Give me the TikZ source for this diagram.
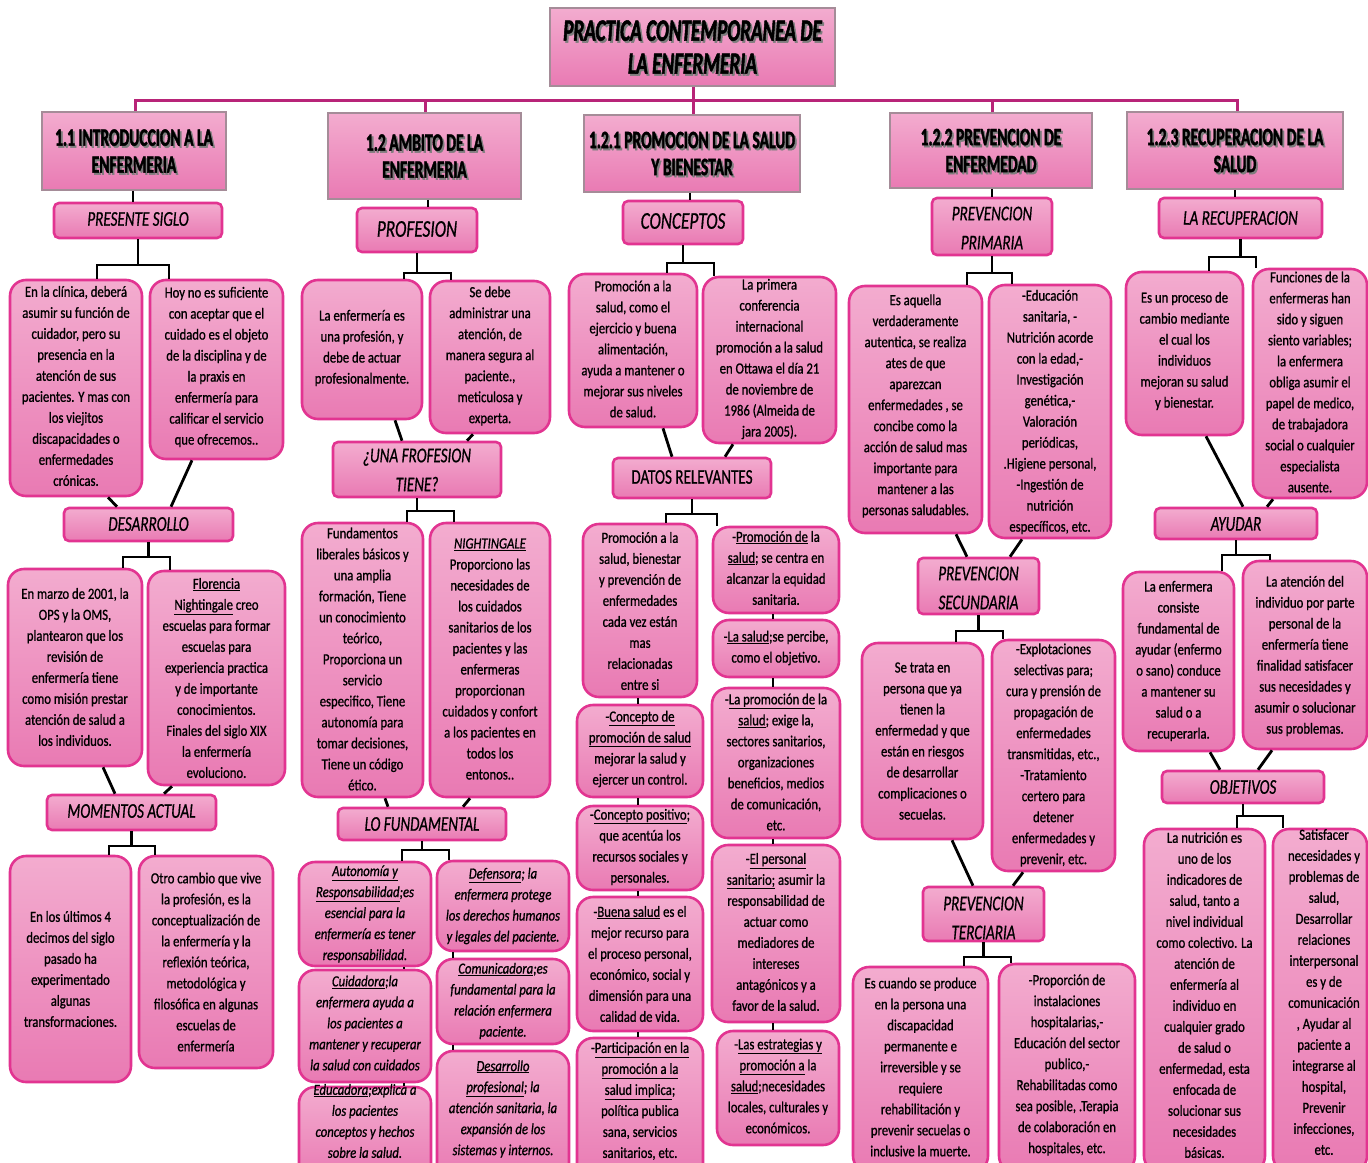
\documentclass[tikz,border=0pt]{standalone}
\usepackage{fontspec}
\setmainfont{Carlito}
\newfontfamily\leaffont{Carlito}[FakeStretch=0.82,FakeBold=0.9]
\newfontfamily\midfont{Carlito}[FakeStretch=0.72,FakeBold=0.6]
\newfontfamily\topfont{Carlito}[FakeStretch=0.62,FakeBold=1.6]
\definecolor{ptop}{RGB}{243,172,207}
\definecolor{pbot}{RGB}{233,122,179}
\definecolor{lbord}{RGB}{226,52,145}
\definecolor{hbord}{RGB}{165,140,152}
\definecolor{tline}{RGB}{184,36,120}
\definecolor{shad}{RGB}{125,125,125}
\tikzset{
 leafbox/.style={draw=lbord,line width=2.6pt,rounded corners=16pt,top color=ptop,bottom color=pbot,inner sep=0pt},
 midbox/.style={draw=lbord,line width=2.6pt,rounded corners=5pt,top color=ptop,bottom color=pbot,inner sep=0pt},
 headbox/.style={draw=hbord,line width=1.6pt,top color=ptop,bottom color=pbot,inner sep=0pt},
 leaftext/.style={align=center,inner sep=0pt,font=\leaffont\fontsize{15.5}{21}\selectfont},
 leafit/.style={align=center,inner sep=0pt,font=\leaffont\itshape\fontsize{15.5}{21}\selectfont},
 midtext/.style={align=center,inner sep=0pt,font=\midfont\itshape\fontsize{21}{29}\selectfont},
 bigtext/.style={align=center,inner sep=0pt,font=\midfont\itshape\fontsize{24}{29}\selectfont},
 plaintext/.style={align=center,inner sep=0pt,font=\midfont\fontsize{21}{28}\selectfont},
 headtext/.style={align=center,inner sep=0pt,font=\topfont\bfseries\fontsize{25}{27}\selectfont},
 titletext/.style={align=center,inner sep=0pt,font=\topfont\bfseries\itshape\fontsize{31}{33}\selectfont},
 conn/.style={line width=2.8pt,black},
 thinconn/.style={line width=1.8pt,black},
 topline/.style={line width=3pt,tline},
}
\newcommand\bx[9]{%
 \pgfmathsetmacro\mW{#6-#4}\pgfmathsetmacro\mH{#7-#5}%
 \pgfmathsetmacro\mX{(#4+#6)/2}\pgfmathsetmacro\mY{(#5+#7)/2}%
 \node[#1,minimum width=\mW pt,minimum height=\mH pt] (#3) at (\mX,\mY) {};%
 \node[#2] (#3-t) at (\mX,#8) {#9};}
\newcommand\hd[7]{%
 \pgfmathsetmacro\mW{#5-#3}\pgfmathsetmacro\mH{#6-#4}%
 \pgfmathsetmacro\mX{(#3+#5)/2}\pgfmathsetmacro\mY{(#4+#6)/2}%
 \node[headbox,minimum width=\mW pt,minimum height=\mH pt] (#2) at (\mX,\mY) {};%
 \node[#1,text=shad] (#2-s) at ([xshift=1.8pt,yshift=-2pt]#2.center) {#7};%
 \node[#1] (#2-t) at (#2.center) {#7};}
\newcommand\brk[6]{%
 \draw[conn] (#1.south) -- (#1.south |- 0,#2);
 \draw[conn] (#5.north -| #3,0) -- (#3,#2) -- (#4,#2) -- (#6.north -| #4,0);}
\newcommand\dgl[4]{\draw[conn] (#1.south -| #2,0) -- (#3.north -| #4,0);}
\newcommand\chn[3]{\draw[thinconn] (#1.south -| #3,0) -- (#2.north -| #3,0);}
\begin{document}
\begin{tikzpicture}[x=1pt,y=-1pt]
\useasboundingbox (0,0) rectangle (1368,1162);
\fill[white] (0,0) rectangle (1368,1162);
\clip (0,0) rectangle (1368,1162);
% ---- headers
\hd{titletext}{title}{550}{8}{835}{86}{PRACTICA CONTEMPORANEA DE\\LA ENFERMERIA}
\hd{headtext}{b11}{42}{112}{226}{190}{1.1 INTRODUCCION A LA\\ENFERMERIA}
\hd{headtext}{b12}{328}{113}{521}{199}{1.2 AMBITO DE LA\\ENFERMERIA}
\hd{headtext}{b121}{584}{115}{800}{192}{1.2.1 PROMOCION DE LA SALUD\\Y BIENESTAR}
\hd{headtext}{b122}{890}{113}{1092}{188}{1.2.2 PREVENCION DE\\ENFERMEDAD}
\hd{headtext}{b123}{1127}{112}{1343}{189}{1.2.3 RECUPERACION DE LA\\SALUD}
% ---- second level
\bx{midbox}{midtext}{ps}{54}{203}{222}{238}{219}{PRESENTE SIGLO}
\bx{midbox}{bigtext}{prof}{357}{208}{477}{252}{229}{PROFESION}
\bx{midbox}{bigtext}{conc}{623}{201}{743}{244}{221}{CONCEPTOS}
\bx{midbox}{midtext}{pp}{932}{198}{1052}{255}{228}{PREVENCION\\PRIMARIA}
\bx{midbox}{midtext}{lr}{1159}{198}{1322}{238}{218}{LA RECUPERACION}
% ---- column 1
\bx{leafbox}{leaftext}{a1}{10}{280}{142}{496}{386}{En la clínica, deberá\\asumir su función de\\cuidador, pero su\\presencia en la\\atención de sus\\pacientes. Y mas con\\los viejitos\\discapacidades o\\enfermedades\\crónicas.}
\bx{leafbox}{leaftext}{a2}{150}{280}{283}{459}{367}{Hoy no es suficiente\\con aceptar que el\\cuidado es el objeto\\de la disciplina y de\\la praxis en\\enfermería para\\calificar el servicio\\que ofrecemos..}
\bx{midbox}{midtext}{des}{64}{508}{233}{541}{524}{DESARROLLO}
\bx{leafbox}{leaftext}{a3}{8}{569}{142}{766}{667}{En marzo de 2001, la\\OPS y la OMS,\\plantearon que los\\revisión de\\enfermería tiene\\como misión prestar\\atención de salud a\\los individuos.}
\bx{leafbox}{leaftext}{a4}{148}{571}{285}{785}{678}{\underline{Florencia}\\\underline{Nightingale} creo\\escuelas para formar\\escuelas para\\experiencia practica\\y de importante\\conocimientos.\\Finales del siglo XIX\\la enfermería\\evoluciono.}
\bx{midbox}{midtext}{mom}{47}{795}{216}{830}{811}{MOMENTOS ACTUAL}
\bx{leafbox}{leaftext}{a5}{10}{856}{131}{1082}{969}{En los últimos 4\\decimos del siglo\\pasado ha\\experimentado\\algunas\\transformaciones.}
\bx{leafbox}{leaftext}{a6}{139}{856}{273}{1068}{962}{Otro cambio que vive\\la profesión, es la\\conceptualización de\\la enfermería y la\\reflexión teórica,\\metodológica y\\filosófica en algunas\\escuelas de\\enfermería}
% ---- column 2
\bx{leafbox}{leaftext}{c1}{302}{280}{422}{419}{348}{La enfermería es\\una profesión, y\\debe de actuar\\profesionalmente.}
\bx{leafbox}{leaftext}{c2}{430}{281}{550}{433}{356}{Se debe\\administrar una\\atención, de\\manera segura al\\paciente.,\\meticulosa y\\experta.}
\bx{midbox}{midtext}{una}{333}{442}{501}{497}{470}{¿UNA FROFESION\\TIENE?}
\bx{leafbox}{leaftext}{d1}{302}{523}{423}{797}{659}{Fundamentos\\liberales básicos y\\una amplia\\formación, Tiene\\un conocimiento\\teórico,\\Proporciona un\\servicio\\especifico, Tiene\\autonomía para\\tomar decisiones,\\Tiene un código\\ético.}
\bx{leafbox}{leaftext}{d2}{430}{523}{550}{797}{659}{\textit{\underline{NIGHTINGALE}}\\Proporciono las\\necesidades de\\los cuidados\\sanitarios de los\\pacientes y las\\enfermeras\\proporcionan\\cuidados y confort\\a los pacientes en\\todos los\\entonos..}
\bx{midbox}{midtext}{lof}{338}{808}{506}{840}{824}{LO FUNDAMENTAL}
\bx{leafbox}{leafit}{e1}{299}{862}{431}{966}{914}{\underline{Autonomía y}\\\underline{Responsabilidad};es\\esencial para la\\enfermería es tener\\responsabilidad.}
\bx{leafbox}{leafit}{e2}{299}{970}{431}{1082}{1023}{\underline{Cuidadora};la\\enfermera ayuda a\\los pacientes a\\mantener y recuperar\\la salud con cuidados}
\bx{leafbox}{leafit}{e3}{299}{1087}{431}{1180}{1121}{\underline{Educadora};explica a\\los pacientes\\conceptos y hechos\\sobre la salud.}
\bx{leafbox}{leafit}{f1}{437}{861}{569}{951}{906}{\underline{Defensora}; la\\enfermera protege\\los derechos humanos\\y legales del paciente.}
\bx{leafbox}{leafit}{f2}{437}{959}{569}{1044}{1001}{\underline{Comunicadora};es\\fundamental para la\\relación enfermera\\paciente.}
\bx{leafbox}{leafit}{f3}{437}{1051}{569}{1180}{1109}{\underline{Desarrollo}\\\underline{profesional}; la\\atención sanitaria, la\\expansión de los\\sistemas y internos.}
% ---- column 3
\bx{leafbox}{leaftext}{g1}{569}{274}{697}{427}{349}{Promoción a la\\salud, como el\\ejercicio y buena\\alimentación,\\ayuda a mantener o\\mejorar sus niveles\\de salud.}
\bx{leafbox}{leaftext}{g2}{703}{277}{836}{443}{359}{La primera\\conferencia\\internacional\\promoción a la salud\\en Ottawa el día 21\\de noviembre de\\1986 (Almeida de\\jara 2005).}
\bx{midbox}{plaintext}{datos}{613}{458}{771}{498}{477}{DATOS RELEVANTES}
\bx{leafbox}{leaftext}{h1}{583}{524}{697}{697}{611}{Promoción a la\\salud, bienestar\\y prevención de\\enfermedades\\cada vez están\\mas\\relacionadas\\entre si}
\bx{leafbox}{leaftext}{h2}{577}{705}{703}{797}{749}{-\underline{Concepto de}\\\underline{promoción de salud}\\mejorar la salud y\\ejercer un control.}
\bx{leafbox}{leaftext}{h3}{577}{806}{703}{890}{847}{-\underline{Concepto positivo};\\que acentúa los\\recursos sociales y\\personales.}
\bx{leafbox}{leaftext}{h4}{577}{897}{703}{1031}{964}{-\underline{Buena salud} es el\\mejor recurso para\\el proceso personal,\\económico, social y\\dimensión para una\\calidad de vida.}
\bx{leafbox}{leaftext}{h5}{577}{1038}{703}{1180}{1101}{-\underline{Participación en la}\\\underline{promoción a la}\\\underline{salud implica};\\política publica\\sana, servicios\\sanitarios, etc.}
\bx{leafbox}{leaftext}{i1}{713}{527}{839}{613}{568}{-\underline{Promoción de} la\\\underline{salud}; se centra en\\alcanzar la equidad\\sanitaria.}
\bx{leafbox}{leaftext}{i2}{713}{620}{839}{677}{648}{-\underline{La salud};se percibe,\\como el objetivo.}
\bx{leafbox}{leaftext}{i3}{712}{688}{840}{838}{762}{-\underline{La promoción de} la\\\underline{salud}; exige la,\\sectores sanitarios,\\organizaciones\\beneficios, medios\\de comunicación,\\etc.}
\bx{leafbox}{leaftext}{i4}{712}{845}{840}{1022}{932}{-\underline{El personal}\\\underline{sanitario;} asumir la\\responsabilidad de\\actuar como\\mediadores de\\intereses\\antagónicos y a\\favor de la salud.}
\bx{leafbox}{leaftext}{i5}{717}{1031}{839}{1145}{1086}{-\underline{Las estrategias y}\\\underline{promoción a} la\\\underline{salud};necesidades\\locales, culturales y\\económicos.}
% ---- column 4
\bx{leafbox}{leaftext}{j1}{849}{286}{982}{533}{406}{Es aquella\\verdaderamente\\autentica, se realiza\\ates de que\\aparezcan\\enfermedades , se\\concibe como la\\acción de salud mas\\importante para\\mantener a las\\personas saludables.}
\bx{leafbox}{leaftext}{j2}{989}{285}{1111}{538}{412}{-Educación\\sanitaria, -\\Nutrición acorde\\con la edad,-\\Investigación\\genética,-\\Valoración\\periódicas,\\.Higiene personal,\\-Ingestión de\\nutrición\\específicos, etc.}
\bx{midbox}{midtext}{sec}{918}{558}{1039}{614}{588}{PREVENCION\\SECUNDARIA}
\bx{leafbox}{leaftext}{k1}{862}{643}{983}{839}{741}{Se trata en\\persona que ya\\tienen la\\enfermedad y que\\están en riesgos\\de desarrollar\\complicaciones o\\secuelas.}
\bx{leafbox}{leaftext}{k2}{992}{640}{1115}{871}{755}{-Explotaciones\\selectivas para;\\cura y prensión de\\propagación de\\enfermedades\\transmitidas, etc.,\\-Tratamiento\\certero para\\detener\\enfermedades y\\prevenir, etc.}
\bx{midbox}{midtext}{ter}{923}{887}{1044}{941}{918}{PREVENCION\\TERCIARIA}
\bx{leafbox}{leaftext}{l1}{853}{967}{988}{1172}{1067}{Es cuando se produce\\en la persona una\\discapacidad\\permanente e\\irreversible y se\\requiere\\rehabilitación y\\prevenir secuelas o\\inclusive la muerte.}
\bx{leafbox}{leaftext}{l2}{999}{964}{1135}{1172}{1065}{-Proporción de\\instalaciones\\hospitalarias,-\\Educación del sector\\publico,-\\Rehabilitadas como\\sea posible, .Terapia\\de colaboración en\\hospitales, etc.}
% ---- column 5
\bx{leafbox}{leaftext}{m1}{1126}{272}{1243}{435}{351}{Es un proceso de\\cambio mediante\\el cual los\\individuos\\mejoran su salud\\y bienestar.}
\bx{leafbox}{leaftext}{m2}{1253}{269}{1367}{498}{382}{Funciones de la\\enfermeras han\\sido y siguen\\siento variables;\\la enfermera\\obliga asumir el\\papel de medico,\\de trabajadora\\social o cualquier\\especialista\\ausente.}
\bx{midbox}{midtext}{ay}{1155}{508}{1317}{539}{524}{AYUDAR}
\bx{leafbox}{leaftext}{n1}{1123}{572}{1234}{751}{661}{La enfermera\\consiste\\fundamental de\\ayudar (enfermo\\o sano) conduce\\a mantener su\\salud o a\\recuperarla.}
\bx{leafbox}{leaftext}{n2}{1243}{561}{1367}{749}{656}{La atención del\\individuo por parte\\personal de la\\enfermería tiene\\finalidad satisfacer\\sus necesidades y\\asumir o solucionar\\sus problemas.}
\bx{midbox}{midtext}{obj}{1162}{771}{1324}{803}{787}{OBJETIVOS}
\bx{leafbox}{leaftext}{o1}{1144}{829}{1265}{1172}{995}{La nutrición es\\uno de los\\indicadores de\\salud, tanto a\\nivel individual\\como colectivo. La\\atención de\\enfermería al\\individuo en\\cualquier grado\\de salud o\\enfermedad, esta\\enfocada de\\solucionar sus\\necesidades\\básicas.}
\bx{leafbox}{leaftext,xshift=4pt}{o2}{1273}{829}{1367}{1172}{992}{Satisfacer\\necesidades y\\problemas de\\salud,\\Desarrollar\\relaciones\\interpersonal\\es y de\\comunicación\\, Ayudar al\\paciente a\\integrarse al\\hospital,\\Prevenir\\infecciones,\\etc.}
% ---- top connectors
\draw[topline] (title.south -| 693,0) -- (693,100);
\draw[topline] (b11.north -| 135,0) -- (135,100) -- (1237,100) -- (b123.north -| 1237,0);
\draw[topline] (b12.north -| 425,0) -- (425,100);
\draw[topline] (b121.north -| 693,0) -- (693,100);
\draw[topline] (b122.north -| 992,0) -- (992,100);
% ---- header to second level
\draw[thinconn] (b11.south -| 133,0) -- (ps.north -| 133,0);
\draw[thinconn] (b12.south -| 428,0) -- (prof.north -| 428,0);
\draw[thinconn] (b121.south -| 690,0) -- (conc.north -| 690,0);
\draw[thinconn] (b122.south -| 992,0) -- (pp.north -| 992,0);
\draw[thinconn] (b123.south -| 1235,0) -- (lr.north -| 1235,0);
% ---- brackets
\brk{ps}{265}{97}{169}{a1}{a2}
\brk{des}{557}{123}{170}{a3}{a4}
\brk{mom}{846}{109}{155}{a5}{a6}
\brk{prof}{273}{404}{451}{c1}{c2}
\brk{una}{511}{407}{454}{d1}{d2}
\brk{lof}{850}{402}{449}{e1}{f1}
\brk{conc}{263}{667}{714}{g1}{g2}
\brk{datos}{514}{666}{717}{h1}{i1}
\brk{pp}{273}{967}{1012}{j1}{j2}
\brk{sec}{631}{956}{1003}{k1}{k2}
\brk{ter}{957}{964}{1011}{l1}{l2}
\brk{lr}{257}{1209}{1256}{m1}{m2}
\brk{ay}{555}{1222}{1270}{n1}{n2}
\brk{obj}{816}{1237}{1283}{o1}{o2}
% ---- diagonals
\dgl{a1}{108}{des}{117}
\dgl{a2}{192}{des}{171}
\dgl{a3}{103}{mom}{115}
\dgl{a4}{172}{mom}{164}
\dgl{c1}{395}{una}{402}
\dgl{c2}{473}{una}{467}
\dgl{d1}{385}{lof}{388}
\dgl{d2}{470}{lof}{463}
\dgl{g1}{663}{datos}{672}
\dgl{g2}{733}{datos}{725}
\dgl{j1}{956}{sec}{967}
\dgl{j2}{1022}{sec}{1010}
\dgl{k1}{952}{ter}{973}
\dgl{k2}{1023}{ter}{1013}
\dgl{m1}{1206}{ay}{1243}
\dgl{m2}{1273}{ay}{1267}
\dgl{n1}{1210}{obj}{1220}
\dgl{n2}{1272}{obj}{1258}
% ---- chains
\chn{e1}{e2}{404}
\chn{e2}{e3}{404}
\chn{f1}{f2}{453}
\chn{f2}{f3}{453}
\chn{h1}{h2}{638}
\chn{h2}{h3}{638}
\chn{h3}{h4}{638}
\chn{h4}{h5}{638}
\chn{i1}{i2}{773}
\chn{i2}{i3}{773}
\chn{i3}{i4}{773}
\chn{i4}{i5}{773}
\end{tikzpicture}
\end{document}
